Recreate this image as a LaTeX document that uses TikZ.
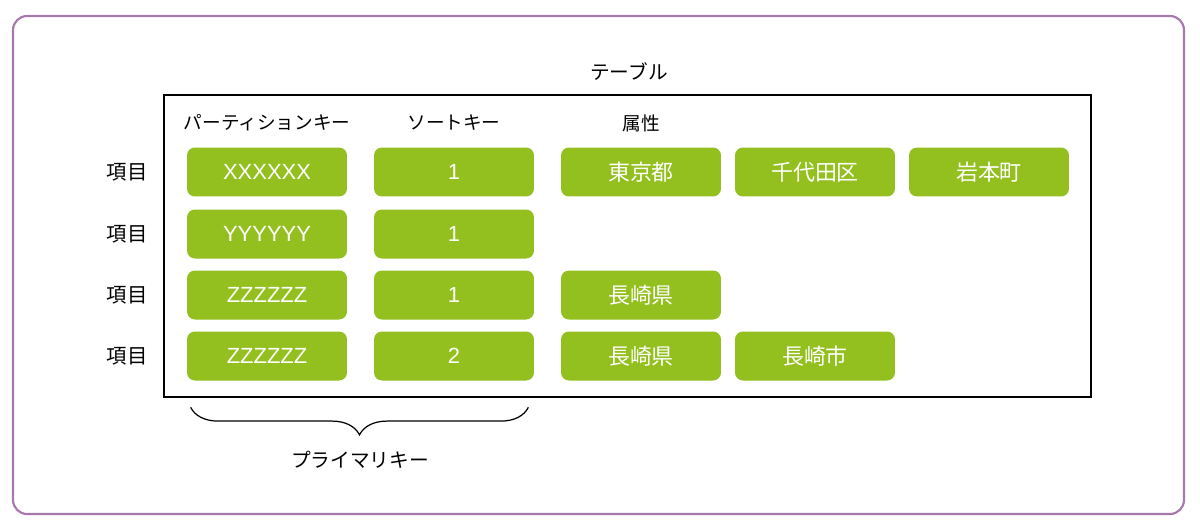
\documentclass[tikz,border=0pt]{standalone}
\usepackage{fontspec}
\setmainfont{Noto Sans CJK JP}
\newfontfamily\cellfont{Liberation Sans}
\usetikzlibrary{decorations.pathreplacing}

\definecolor{cellgreen}{HTML}{93BF1F}
\definecolor{framepurple}{HTML}{A877AE}

\begin{document}
\begin{tikzpicture}[
    x=0.02cm, y=-0.02cm,
    cell/.style={fill=cellgreen, rounded corners=4.5pt, minimum width=3.2cm,
        minimum height=0.98cm, text=white, font=\fontsize{12.5}{14}\selectfont},
    lcell/.style={cell, font=\cellfont\fontsize{12.5}{14}\selectfont},
    hdr/.style={font=\fontsize{10.6}{12}\selectfont},
    rowlbl/.style={font=\fontsize{11.6}{13}\selectfont},
    ttl/.style={font=\fontsize{11.2}{13}\selectfont},
]

\useasboundingbox (0,0) rectangle (1200,531);

% Outer frame
\draw[framepurple, line width=1.2pt, rounded corners=8pt] (13,16) rectangle (1184,514);

% Table
\node[ttl] (title) at (629,72) {テーブル};
\draw[black, line width=0.9pt] (164,95) rectangle (1091,397);

% Column headers
\node[hdr] (hpk) at (267,123) {パーティションキー};
\node[hdr] (hsk) at (454,123) {ソートキー};
\node[hdr] (hattr) at (641,123) {属性};

% Row labels
\node[rowlbl] (r1) at (127,172) {項目};
\node[rowlbl] (r2) at (127,234) {項目};
\node[rowlbl] (r3) at (127,295) {項目};
\node[rowlbl] (r4) at (127,356) {項目};

% Row 1
\node[lcell] (pk1) at (267,172) {XXXXXX};
\node[lcell] (sk1) at (454,172) {1};
\node[cell] (a11) at (641,172) {東京都};
\node[cell] (a12) at (815,172) {千代田区};
\node[cell] (a13) at (989,172) {岩本町};

% Row 2
\node[lcell] (pk2) at (267,234) {YYYYYY};
\node[lcell] (sk2) at (454,234) {1};

% Row 3
\node[lcell] (pk3) at (267,295) {ZZZZZZ};
\node[lcell] (sk3) at (454,295) {1};
\node[cell] (a31) at (641,295) {長崎県};

% Row 4
\node[lcell] (pk4) at (267,356) {ZZZZZZ};
\node[lcell] (sk4) at (454,356) {2};
\node[cell] (a41) at (641,356) {長崎県};
\node[cell] (a42) at (815,356) {長崎市};

% Primary key brace
\coordinate (bl) at ([xshift=0.08cm, yshift=-0.53cm]pk4.south west);
\coordinate (br) at ([xshift=-0.12cm, yshift=-0.53cm]sk4.south east);
\draw[decorate, decoration={brace, mirror, amplitude=0.55cm}, line width=0.7pt] (bl) -- (br);
\node[ttl] (pkey) at (360,460) {プライマリキー};

\end{tikzpicture}
\end{document}
